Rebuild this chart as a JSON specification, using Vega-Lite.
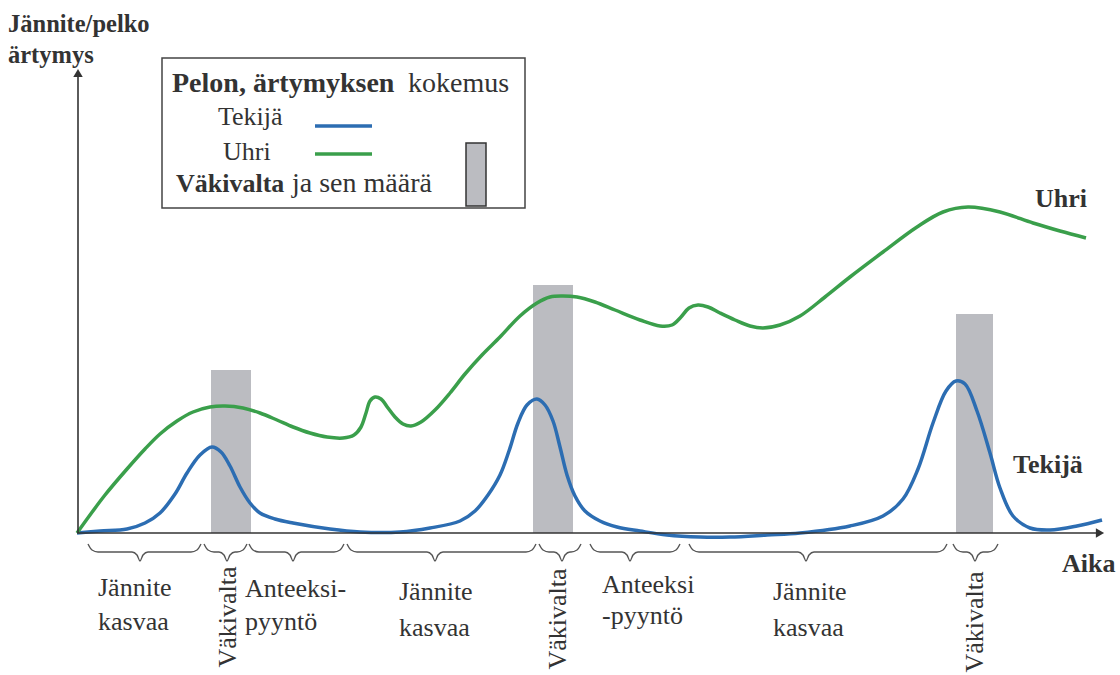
{
  "$schema": "https://vega.github.io/schema/vega-lite/v6.json",
  "width": 1120,
  "height": 675,
  "autosize": {"type": "fit", "contains": "padding"},
  "padding": 0,
  "background": "white",
  "config": {"view": {"stroke": null}, "text": {"font": "'Liberation Serif', 'DejaVu Serif', 'Noto Serif', 'Times New Roman', Times, serif"}},
  "datasets": {
    "curves": [
      {"who":"Tekijä","t":77,"level":0},{"who":"Tekijä","t":100,"level":2},{"who":"Tekijä","t":127,"level":4},{"who":"Tekijä","t":145,"level":10},{"who":"Tekijä","t":160,"level":20},{"who":"Tekijä","t":175,"level":39},{"who":"Tekijä","t":187,"level":60},{"who":"Tekijä","t":200,"level":78},{"who":"Tekijä","t":212,"level":86},{"who":"Tekijä","t":221,"level":81},{"who":"Tekijä","t":230,"level":67},{"who":"Tekijä","t":240,"level":46},{"who":"Tekijä","t":250,"level":30},{"who":"Tekijä","t":260,"level":20},{"who":"Tekijä","t":275,"level":14},{"who":"Tekijä","t":293,"level":10},{"who":"Tekijä","t":330,"level":4},{"who":"Tekijä","t":360,"level":1},{"who":"Tekijä","t":400,"level":1},{"who":"Tekijä","t":430,"level":5},{"who":"Tekijä","t":460,"level":12},{"who":"Tekijä","t":475,"level":22},{"who":"Tekijä","t":488,"level":38},{"who":"Tekijä","t":500,"level":58},{"who":"Tekijä","t":509,"level":82},{"who":"Tekijä","t":518,"level":110},{"who":"Tekijä","t":527,"level":128},{"who":"Tekijä","t":537,"level":134},{"who":"Tekijä","t":545,"level":128},{"who":"Tekijä","t":553,"level":112},{"who":"Tekijä","t":560,"level":86},{"who":"Tekijä","t":567,"level":58},{"who":"Tekijä","t":575,"level":37},{"who":"Tekijä","t":585,"level":22},{"who":"Tekijä","t":600,"level":12},{"who":"Tekijä","t":617,"level":6},{"who":"Tekijä","t":640,"level":2},{"who":"Tekijä","t":667,"level":-2},{"who":"Tekijä","t":700,"level":-4},{"who":"Tekijä","t":730,"level":-4},{"who":"Tekijä","t":767,"level":-2},{"who":"Tekijä","t":800,"level":0},{"who":"Tekijä","t":850,"level":7},{"who":"Tekijä","t":883,"level":17},{"who":"Tekijä","t":903,"level":34},{"who":"Tekijä","t":918,"level":64},{"who":"Tekijä","t":933,"level":110},{"who":"Tekijä","t":946,"level":142},{"who":"Tekijä","t":956,"level":152},{"who":"Tekijä","t":965,"level":149},{"who":"Tekijä","t":977,"level":122},{"who":"Tekijä","t":990,"level":80},{"who":"Tekijä","t":1000,"level":45},{"who":"Tekijä","t":1013,"level":17},{"who":"Tekijä","t":1030,"level":5},{"who":"Tekijä","t":1050,"level":3},{"who":"Tekijä","t":1077,"level":7},{"who":"Tekijä","t":1102,"level":13},
      {"who":"Uhri","t":77,"level":0},{"who":"Uhri","t":90,"level":18},{"who":"Uhri","t":105,"level":38},{"who":"Uhri","t":127,"level":64},{"who":"Uhri","t":145,"level":84},{"who":"Uhri","t":160,"level":99},{"who":"Uhri","t":177,"level":112},{"who":"Uhri","t":193,"level":121},{"who":"Uhri","t":210,"level":126},{"who":"Uhri","t":225,"level":127},{"who":"Uhri","t":243,"level":125},{"who":"Uhri","t":260,"level":120},{"who":"Uhri","t":277,"level":113},{"who":"Uhri","t":293,"level":106},{"who":"Uhri","t":310,"level":100},{"who":"Uhri","t":327,"level":96},{"who":"Uhri","t":343,"level":95},{"who":"Uhri","t":354,"level":98},{"who":"Uhri","t":361,"level":106},{"who":"Uhri","t":366,"level":120},{"who":"Uhri","t":370,"level":132},{"who":"Uhri","t":375,"level":136},{"who":"Uhri","t":381,"level":134},{"who":"Uhri","t":388,"level":125},{"who":"Uhri","t":395,"level":116},{"who":"Uhri","t":403,"level":109},{"who":"Uhri","t":411,"level":107},{"who":"Uhri","t":421,"level":111},{"who":"Uhri","t":435,"level":123},{"who":"Uhri","t":450,"level":140},{"who":"Uhri","t":465,"level":159},{"who":"Uhri","t":482,"level":178},{"who":"Uhri","t":500,"level":196},{"who":"Uhri","t":520,"level":217},{"who":"Uhri","t":537,"level":230},{"who":"Uhri","t":550,"level":236},{"who":"Uhri","t":562,"level":237},{"who":"Uhri","t":577,"level":236},{"who":"Uhri","t":595,"level":231},{"who":"Uhri","t":615,"level":223},{"who":"Uhri","t":640,"level":213},{"who":"Uhri","t":660,"level":207},{"who":"Uhri","t":672,"level":208},{"who":"Uhri","t":681,"level":216},{"who":"Uhri","t":689,"level":225},{"who":"Uhri","t":698,"level":228},{"who":"Uhri","t":708,"level":226},{"who":"Uhri","t":720,"level":220},{"who":"Uhri","t":735,"level":213},{"who":"Uhri","t":750,"level":207},{"who":"Uhri","t":763,"level":205},{"who":"Uhri","t":780,"level":208},{"who":"Uhri","t":800,"level":217},{"who":"Uhri","t":825,"level":236},{"who":"Uhri","t":850,"level":256},{"who":"Uhri","t":883,"level":281},{"who":"Uhri","t":917,"level":306},{"who":"Uhri","t":943,"level":321},{"who":"Uhri","t":968,"level":326},{"who":"Uhri","t":1000,"level":321},{"who":"Uhri","t":1033,"level":310},{"who":"Uhri","t":1060,"level":302},{"who":"Uhri","t":1086,"level":295}
    ],
    "violence": [
      {"episode":1,"t":211,"t2":251,"level":163},
      {"episode":2,"t":533,"t2":573,"level":248},
      {"episode":3,"t":956,"t2":993,"level":219}
    ],
    "braces": [
      {"phase":1,"t":88,"level":-11},{"phase":1,"t":92,"level":-17},{"phase":1,"t":98,"level":-19},{"phase":1,"t":132,"level":-19},{"phase":1,"t":137,"level":-22},{"phase":1,"t":140,"level":-28},{"phase":1,"t":143,"level":-22},{"phase":1,"t":148,"level":-19},{"phase":1,"t":191,"level":-19},{"phase":1,"t":197,"level":-17},{"phase":1,"t":201,"level":-11},
      {"phase":2,"t":204,"level":-11},{"phase":2,"t":208,"level":-17},{"phase":2,"t":214,"level":-19},{"phase":2,"t":219,"level":-19},{"phase":2,"t":224,"level":-22},{"phase":2,"t":227,"level":-28},{"phase":2,"t":230,"level":-22},{"phase":2,"t":235,"level":-19},{"phase":2,"t":237,"level":-19},{"phase":2,"t":243,"level":-17},{"phase":2,"t":247,"level":-11},
      {"phase":3,"t":249,"level":-11},{"phase":3,"t":253,"level":-17},{"phase":3,"t":259,"level":-19},{"phase":3,"t":285,"level":-19},{"phase":3,"t":290,"level":-22},{"phase":3,"t":293,"level":-28},{"phase":3,"t":296,"level":-22},{"phase":3,"t":301,"level":-19},{"phase":3,"t":334,"level":-19},{"phase":3,"t":340,"level":-17},{"phase":3,"t":344,"level":-11},
      {"phase":4,"t":347,"level":-11},{"phase":4,"t":351,"level":-17},{"phase":4,"t":357,"level":-19},{"phase":4,"t":427,"level":-19},{"phase":4,"t":432,"level":-22},{"phase":4,"t":435,"level":-28},{"phase":4,"t":438,"level":-22},{"phase":4,"t":443,"level":-19},{"phase":4,"t":526,"level":-19},{"phase":4,"t":532,"level":-17},{"phase":4,"t":536,"level":-11},
      {"phase":5,"t":539,"level":-11},{"phase":5,"t":543,"level":-17},{"phase":5,"t":549,"level":-19},{"phase":5,"t":554,"level":-19},{"phase":5,"t":559,"level":-22},{"phase":5,"t":562,"level":-28},{"phase":5,"t":565,"level":-22},{"phase":5,"t":570,"level":-19},{"phase":5,"t":571,"level":-19},{"phase":5,"t":577,"level":-17},{"phase":5,"t":581,"level":-11},
      {"phase":6,"t":590,"level":-11},{"phase":6,"t":594,"level":-17},{"phase":6,"t":600,"level":-19},{"phase":6,"t":622,"level":-19},{"phase":6,"t":627,"level":-22},{"phase":6,"t":630,"level":-28},{"phase":6,"t":633,"level":-22},{"phase":6,"t":638,"level":-19},{"phase":6,"t":670,"level":-19},{"phase":6,"t":676,"level":-17},{"phase":6,"t":680,"level":-11},
      {"phase":7,"t":689,"level":-11},{"phase":7,"t":693,"level":-17},{"phase":7,"t":699,"level":-19},{"phase":7,"t":798,"level":-19},{"phase":7,"t":803,"level":-22},{"phase":7,"t":806,"level":-28},{"phase":7,"t":809,"level":-22},{"phase":7,"t":814,"level":-19},{"phase":7,"t":937,"level":-19},{"phase":7,"t":943,"level":-17},{"phase":7,"t":947,"level":-11},
      {"phase":8,"t":953,"level":-11},{"phase":8,"t":957,"level":-17},{"phase":8,"t":963,"level":-19},{"phase":8,"t":967,"level":-19},{"phase":8,"t":972,"level":-22},{"phase":8,"t":975,"level":-28},{"phase":8,"t":978,"level":-22},{"phase":8,"t":983,"level":-19},{"phase":8,"t":988,"level":-19},{"phase":8,"t":994,"level":-17},{"phase":8,"t":998,"level":-11}
    ],
    "axisLines": [
      {"name":"Aika","t":77,"t2":1097,"level":0,"level2":0},
      {"name":"Jännite","t":78,"t2":78,"level":0,"level2":457}
    ],
    "arrows": [
      {"dir":"right","t":1100,"level":0},
      {"dir":"up","t":78,"level":460}
    ],
    "axisTitles": [
      {"txt":"Jännite/pelko","t":8,"level":501},
      {"txt":"ärtymys","t":8,"level":470}
    ],
    "boldText": [
      {"txt":"Väkivalta","t":176,"level":341},
      {"txt":"Aika","t":1062,"level":-39},
      {"txt":"Uhri","t":1035,"level":326},
      {"txt":"Tekijä","t":1013,"level":60}
    ],
    "legendTitle": [
      {"txt":"Pelon, ärtymyksen","t":172,"level":441}
    ],
    "legendPlain": [
      {"txt":"kokemus","t":408,"level":441},
      {"txt":"ja sen määrä","t":292,"level":341}
    ],
    "plainText": [
      {"txt":"Tekijä","t":218,"level":408},
      {"txt":"Uhri","t":223,"level":373},
      {"txt":"Jännite","t":98,"level":-63},
      {"txt":"kasvaa","t":98,"level":-97},
      {"txt":"Anteeksi-","t":245,"level":-64},
      {"txt":"pyyntö","t":245,"level":-97},
      {"txt":"Jännite","t":399,"level":-67},
      {"txt":"kasvaa","t":399,"level":-103},
      {"txt":"Anteeksi","t":602,"level":-60},
      {"txt":"-pyyntö","t":602,"level":-91},
      {"txt":"Jännite","t":773,"level":-67},
      {"txt":"kasvaa","t":773,"level":-103}
    ],
    "rotText": [
      {"txt":"Väkivalta","t":228,"level":-84},
      {"txt":"Väkivalta","t":558,"level":-86},
      {"txt":"Väkivalta","t":975,"level":-89}
    ],
    "legendBox": [{"t":162,"t2":525,"level":475,"level2":325}],
    "legendLines": [
      {"who":"Tekijä","t":315,"t2":372,"level":407},
      {"who":"Uhri","t":315,"t2":372,"level":379}
    ],
    "legendBar": [{"t":466,"t2":486,"level":390,"level2":327}]
  },
  "encoding": {
    "x": {"field":"t","type":"quantitative","scale":{"domain":[0,1120],"nice":false,"zero":false},"axis":null},
    "y": {"field":"level","type":"quantitative","scale":{"domain":[-142,533],"nice":false,"zero":false},"axis":null}
  },
  "layer": [
    {
      "data":{"name":"legendBox"},
      "mark":{"type":"rect","fill":"white","stroke":"#444444","strokeWidth":1.5},
      "encoding":{"x2":{"field":"t2"},"y2":{"field":"level2"}}
    },
    {
      "data":{"name":"violence"},
      "mark":{"type":"rect","fill":"#BBBCC1"},
      "encoding":{"x2":{"field":"t2"},"y2":{"datum":0}}
    },
    {
      "data":{"name":"curves"},
      "mark":{"type":"line","interpolate":"catmull-rom","strokeWidth":3.5},
      "encoding":{
        "color":{"field":"who","type":"nominal","scale":{"domain":["Tekijä","Uhri"],"range":["#2C6DB2","#3A9F4B"]},"legend":null},
        "order":{"field":"t","type":"quantitative"}
      }
    },
    {
      "data":{"name":"axisLines"},
      "mark":{"type":"rule","color":"#333333","strokeWidth":1.6},
      "encoding":{"x2":{"field":"t2"},"y2":{"field":"level2"}}
    },
    {
      "data":{"name":"arrows"},
      "mark":{"type":"point","filled":true,"color":"#333333","size":90,"opacity":1},
      "encoding":{"shape":{"field":"dir","type":"nominal","scale":{"domain":["right","up"],"range":["triangle-right","triangle-up"]},"legend":null}}
    },
    {
      "data":{"name":"braces"},
      "mark":{"type":"line","interpolate":"monotone","color":"#555555","strokeWidth":1.4},
      "encoding":{"detail":{"field":"phase","type":"nominal"},"order":{"field":"t","type":"quantitative"}}
    },
    {
      "data":{"name":"legendLines"},
      "mark":{"type":"rule","strokeWidth":3.5},
      "encoding":{"x2":{"field":"t2"},"color":{"field":"who","type":"nominal","legend":null}}
    },
    {
      "data":{"name":"legendBar"},
      "mark":{"type":"rect","fill":"#BBBCC1","stroke":"#333333","strokeWidth":1.5},
      "encoding":{"x2":{"field":"t2"},"y2":{"field":"level2"}}
    },
    {
      "data":{"name":"axisTitles"},
      "mark":{"type":"text","fontWeight":"bold","fontSize":24.5,"align":"left","baseline":"alphabetic","color":"#333333"},
      "encoding":{"text":{"field":"txt"}}
    },
    {
      "data":{"name":"boldText"},
      "mark":{"type":"text","fontWeight":"bold","fontSize":26,"align":"left","baseline":"alphabetic","color":"#333333"},
      "encoding":{"text":{"field":"txt"}}
    },
    {
      "data":{"name":"legendTitle"},
      "mark":{"type":"text","fontWeight":"bold","fontSize":28,"align":"left","baseline":"alphabetic","color":"#333333"},
      "encoding":{"text":{"field":"txt"}}
    },
    {
      "data":{"name":"legendPlain"},
      "mark":{"type":"text","fontSize":28,"align":"left","baseline":"alphabetic","color":"#333333"},
      "encoding":{"text":{"field":"txt"}}
    },
    {
      "data":{"name":"plainText"},
      "mark":{"type":"text","fontSize":26,"align":"left","baseline":"alphabetic","color":"#333333"},
      "encoding":{"text":{"field":"txt"}}
    },
    {
      "data":{"name":"rotText"},
      "mark":{"type":"text","fontSize":26,"angle":270,"align":"center","baseline":"middle","color":"#333333"},
      "encoding":{"text":{"field":"txt"}}
    }
  ]
}
